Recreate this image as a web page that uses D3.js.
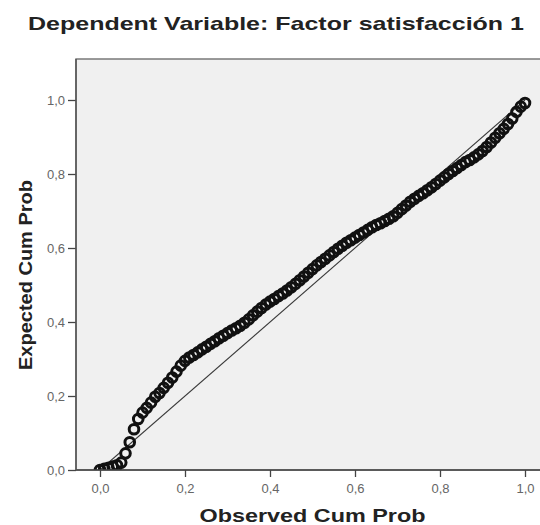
<!DOCTYPE html>
<html>
<head>
<meta charset="utf-8">
<script src="https://cdn.jsdelivr.net/npm/d3@7"></script>
<style>
  html, body { margin: 0; padding: 0; background: #ffffff; }
  svg { display: block; }
</style>
</head>
<body>
<script>
// ---- data ----
const chartTitle = "Dependent Variable: Factor satisfacción 1";
const xAxisTitle = "Observed Cum Prob";
const yAxisTitle = "Expected Cum Prob";
const tickValues = [0, 0.2, 0.4, 0.6, 0.8, 1.0];
const tickLabels = ["0,0", "0,2", "0,4", "0,6", "0,8", "1,0"];

const observed = [
  0.00, 0.01, 0.02, 0.03, 0.04, 0.05, 0.06, 0.07, 0.08, 0.09,
  0.10, 0.11, 0.12, 0.13, 0.14, 0.15, 0.16, 0.17, 0.18, 0.19,
  0.20, 0.21, 0.22, 0.23, 0.24, 0.25, 0.26, 0.27, 0.28, 0.29,
  0.30, 0.31, 0.32, 0.33, 0.34, 0.35, 0.36, 0.37, 0.38, 0.39,
  0.40, 0.41, 0.42, 0.43, 0.44, 0.45, 0.46, 0.47, 0.48, 0.49,
  0.50, 0.51, 0.52, 0.53, 0.54, 0.55, 0.56, 0.57, 0.58, 0.59,
  0.60, 0.61, 0.62, 0.63, 0.64, 0.65, 0.66, 0.67, 0.68, 0.69,
  0.70, 0.71, 0.72, 0.73, 0.74, 0.75, 0.76, 0.77, 0.78, 0.79,
  0.80, 0.81, 0.82, 0.83, 0.84, 0.85, 0.86, 0.87, 0.88, 0.89,
  0.90, 0.91, 0.92, 0.93, 0.94, 0.95, 0.96, 0.97, 0.98, 0.99, 1.00
];
const expected = [
  0.000, 0.003, 0.006, 0.009, 0.013, 0.020, 0.045, 0.075, 0.110, 0.138,
  0.155, 0.168, 0.182, 0.198, 0.208, 0.222, 0.236, 0.250, 0.266, 0.282,
  0.295, 0.304, 0.311, 0.318, 0.326, 0.333, 0.341, 0.348, 0.356, 0.363,
  0.370, 0.377, 0.383, 0.390, 0.398, 0.407, 0.418, 0.428, 0.438, 0.447,
  0.455, 0.462, 0.470, 0.477, 0.485, 0.494, 0.503, 0.513, 0.523, 0.533,
  0.543, 0.553, 0.562, 0.571, 0.580, 0.589, 0.598, 0.606, 0.614, 0.621,
  0.628, 0.635, 0.642, 0.649, 0.656, 0.662, 0.667, 0.673, 0.679, 0.686,
  0.695, 0.705, 0.715, 0.725, 0.733, 0.741, 0.748, 0.756, 0.764, 0.773,
  0.782, 0.791, 0.800, 0.808, 0.816, 0.824, 0.832, 0.838, 0.845, 0.853,
  0.862, 0.873, 0.885, 0.898, 0.910, 0.922, 0.935, 0.950, 0.968, 0.982, 0.992
];
const refLine = [[0, 0], [1, 1]];

// ---- layout ----
const W = 540, H = 525;
const svg = d3.select("body").append("svg").attr("width", W).attr("height", H);

const x = d3.scaleLinear().domain([0, 1]).range([100, 525]);
const y = d3.scaleLinear().domain([0, 1]).range([470, 100]);
const frameX0 = x.invert(76), frameX1 = x.invert(552), frameYTop = y.invert(59);

const font = "Liberation Sans, Arial, sans-serif";

// plot background / frame
svg.append("rect")
  .attr("x", x(frameX0)).attr("y", y(frameYTop))
  .attr("width", x(frameX1) - x(frameX0)).attr("height", y(0) - y(frameYTop))
  .attr("fill", "#f0f0f0").attr("stroke", "#707070").attr("stroke-width", 1.4);

// clip for marks
svg.append("clipPath").attr("id", "clip").append("rect")
  .attr("x", x(frameX0)).attr("y", y(frameYTop))
  .attr("width", x(frameX1) - x(frameX0)).attr("height", y(0) - y(frameYTop));

const marks = svg.append("g").attr("clip-path", "url(#clip)");

// reference diagonal
marks.append("path")
  .attr("d", d3.line().x(d => x(d[0])).y(d => y(d[1]))(refLine))
  .attr("fill", "none").attr("stroke", "#3a3a3a").attr("stroke-width", 1.1);

// points
const pts = observed.map((v, i) => ({ o: v, e: expected[i] }));
marks.selectAll("circle.pt").data(pts).enter().append("circle")
  .attr("class", "pt")
  .attr("cx", d => x(d.o)).attr("cy", d => y(d.e))
  .attr("r", 4.8)
  .attr("fill", "none").attr("stroke", "#111").attr("stroke-width", 3);

// axes
const fmt = d => tickLabels[tickValues.indexOf(d)];
const xAxis = d3.axisBottom(x).tickValues(tickValues).tickFormat(fmt).tickSize(7).tickSizeOuter(0);
const yAxis = d3.axisLeft(y).tickValues(tickValues).tickFormat(fmt).tickSize(8).tickSizeOuter(0);

const gx = svg.append("g").attr("transform", `translate(0,${y(0)})`).call(xAxis);
gx.select(".domain").remove();
gx.selectAll(".tick line").attr("stroke", "#444").attr("stroke-width", 1.3);
gx.selectAll(".tick text")
  .attr("y", 14).attr("dy", "0.71em")
  .attr("fill", "#666").style("font-family", font).style("font-size", "13px");

const gy = svg.append("g").attr("transform", `translate(${x(frameX0)},0)`).call(yAxis);
gy.select(".domain").remove();
gy.selectAll(".tick line").attr("stroke", "#444").attr("stroke-width", 1.3);
gy.selectAll(".tick text")
  .attr("x", -11)
  .attr("fill", "#666").style("font-family", font).style("font-size", "13px");

// axis lines (drawn over the frame)
svg.append("line")
  .attr("x1", x(frameX0)).attr("x2", x(frameX1)).attr("y1", y(0)).attr("y2", y(0))
  .attr("stroke", "#444").attr("stroke-width", 1.6);
svg.append("line")
  .attr("x1", x(frameX0)).attr("x2", x(frameX0)).attr("y1", y(frameYTop)).attr("y2", y(0))
  .attr("stroke", "#555").attr("stroke-width", 1.5);

// titles
svg.append("text")
  .attr("x", 276).attr("y", 30)
  .attr("text-anchor", "middle")
  .attr("textLength", 496).attr("lengthAdjust", "spacingAndGlyphs")
  .style("font-family", font).style("font-weight", "bold").style("font-size", "19px")
  .attr("fill", "#222")
  .text(chartTitle);

svg.append("text")
  .attr("x", (x(0) + x(1)) / 2).attr("y", 522)
  .attr("text-anchor", "middle")
  .attr("textLength", 226).attr("lengthAdjust", "spacingAndGlyphs")
  .style("font-family", font).style("font-weight", "bold").style("font-size", "18px")
  .attr("fill", "#222")
  .text(xAxisTitle);

svg.append("text")
  .attr("transform", "translate(32,275) rotate(-90)")
  .attr("text-anchor", "middle")
  .attr("textLength", 190).attr("lengthAdjust", "spacingAndGlyphs")
  .style("font-family", font).style("font-weight", "bold").style("font-size", "18px")
  .attr("fill", "#222")
  .text(yAxisTitle);
</script>
</body>
</html>
